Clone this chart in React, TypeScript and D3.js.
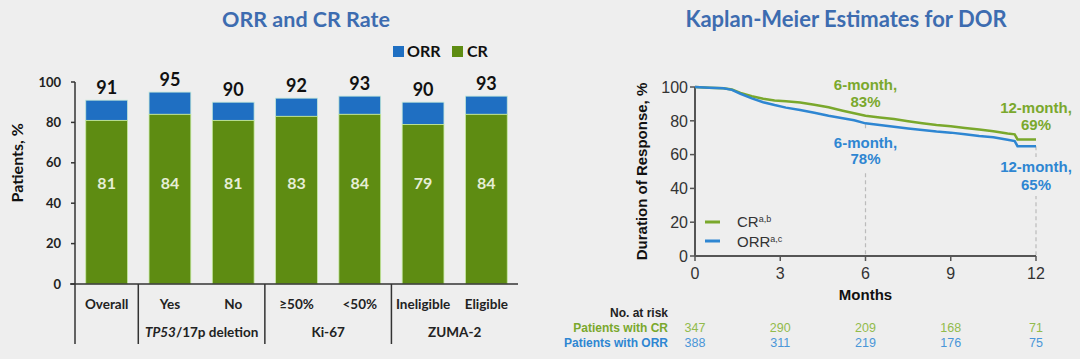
import React from "react";
import * as d3 from "d3";

// ---------- Left chart data ----------
const categories = ["Overall", "Yes", "No", "≥50%", "<50%", "Ineligible", "Eligible"];
const orrValues = [91, 95, 90, 92, 93, 90, 93];
const crValues = [81, 84, 81, 83, 84, 79, 84];
const groupSpans = [
  { label: "", start: 0, end: 1 },
  { label: "TP53/17p deletion", start: 1, end: 3 },
  { label: "Ki-67", start: 3, end: 5 },
  { label: "ZUMA-2", start: 5, end: 7 },
];
const barYTicks = [0, 20, 40, 60, 80, 100];

// ---------- Right chart data ----------
const kmMonths = [0, 0.5, 1.0, 1.3, 1.6, 2.0, 2.4, 2.8, 3.2, 3.7, 4.2, 4.7, 5.2, 5.6, 6.0, 6.5, 7.0, 7.5, 8.0, 8.5, 9.0, 9.5, 10.0, 10.5, 11.0, 11.25, 11.35, 12];
const kmCR = [100, 99.6, 99.2, 98.5, 96.5, 94.5, 93, 92, 91.5, 90.8, 89.5, 88, 86, 84.5, 83, 82, 81, 79.8, 78.6, 77.5, 76.8, 75.8, 74.8, 73.8, 72.5, 72, 69, 69];
const kmORR = [100, 99.6, 99.2, 98.3, 96, 93.3, 91, 89.3, 87.8, 86.4, 84.8, 83, 81.5, 80.3, 78.5, 77.5, 76.5, 75.5, 74.5, 73.6, 73, 72, 71, 70.3, 68.8, 68, 65, 65];
const kmXTicks = [0, 3, 6, 9, 12];
const kmYTicks = [0, 20, 40, 60, 80, 100];
const riskCR = [347, 290, 209, 168, 71];
const riskORR = [388, 311, 219, 176, 75];

const BG = "#eeeeee";
const BAR_BLUE = "#1f6fc2";
const BAR_GREEN = "#5e8c12";
const KM_GREEN = "#7aa82c";
const KM_BLUE = "#2e86d2";
const TITLE_BLUE = "#3d6cb0";
const LATO = "Lato, 'Open Sans', sans-serif";
const ARIAL = "'Liberation Sans', Arial, sans-serif";

function BarChart() {
  const x = d3.scaleBand<string>().domain(categories).range([75, 518]).paddingInner(0.34).paddingOuter(0.17);
  const y = d3.scaleLinear().domain([0, 100]).range([284, 82]);
  const step = x.step();
  const x0 = 75;
  return (
    <g fontFamily={LATO}>
      <text x={306} y={27} textAnchor="middle" fontSize={21.5} fontWeight={700} fill={TITLE_BLUE}>ORR and CR Rate</text>
      {/* legend */}
      <rect x={393} y={46} width={11} height={11} fill={BAR_BLUE} />
      <text x={407} y={57} fontSize={16} fontWeight={700} fill="#111">ORR</text>
      <rect x={452} y={46} width={11} height={11} fill={BAR_GREEN} />
      <text x={467} y={57} fontSize={16} fontWeight={700} fill="#111">CR</text>
      {/* y title */}
      <text transform={`translate(23,${y(60)}) rotate(-90)`} textAnchor="middle" fontSize={16} fontWeight={700} fill="#111">Patients, %</text>
      {/* y axis */}
      <line x1={x0} x2={x0} y1={y(100)} y2={344} stroke="#333" strokeWidth={1.5} />
      {barYTicks.map((t) => (
        <g key={t}>
          <line x1={x0 - 4} x2={x0} y1={y(t)} y2={y(t)} stroke="#333" strokeWidth={1.5} />
          <text x={61} y={y(t)} dy="0.35em" textAnchor="end" fontSize={13} fontWeight={700} fill="#222">{t}</text>
        </g>
      ))}
      {/* bars */}
      {categories.map((c, i) => {
        const bx = x(c)!;
        const bw = x.bandwidth();
        return (
          <g key={c}>
            <rect x={bx} y={y(orrValues[i])} width={bw} height={y(crValues[i]) - y(orrValues[i])} fill={BAR_BLUE} stroke="#bfe6d8" strokeWidth={0.8} />
            <rect x={bx} y={y(crValues[i])} width={bw} height={y(0) - y(crValues[i])} fill={BAR_GREEN} stroke="#c6eaa0" strokeWidth={0.8} />
            <text x={bx + bw / 2} y={y(orrValues[i]) - 6} textAnchor="middle" fontSize={18} fontWeight={700} fill="#111">{orrValues[i]}</text>
            <text x={bx + bw / 2} y={y(50) + 6} textAnchor="middle" fontSize={16} fontWeight={700} fill="#e6eed6">{crValues[i]}</text>
            <text x={bx + bw / 2} y={309} textAnchor="middle" fontSize={13.5} fontWeight={700} fill="#222">{c}</text>
          </g>
        );
      })}
      {/* x axis */}
      <line x1={70} x2={518} y1={y(0)} y2={y(0)} stroke="#333" strokeWidth={1.5} />
      {groupSpans.slice(1).map((g) => (
        <line key={g.label} x1={x0 + g.start * step} x2={x0 + g.start * step} y1={y(0)} y2={344} stroke="#333" strokeWidth={1.5} />
      ))}
      {groupSpans.map((g) => (
        <text key={g.label} x={x0 + ((g.start + g.end) / 2) * step} y={337} textAnchor="middle" fontSize={13.5} fontWeight={700} fill="#222">
          {g.label.startsWith("TP53") ? (
            <>
              <tspan fontStyle="italic">TP53</tspan>
              <tspan>{g.label.slice(4)}</tspan>
            </>
          ) : (
            g.label
          )}
        </text>
      ))}
    </g>
  );
}

function KMChart() {
  const x = d3.scaleLinear().domain([0, 12]).range([695, 1036]);
  const y = d3.scaleLinear().domain([0, 100]).range([256, 87]);
  const line = d3
    .line<number>()
    .x((_, i) => x(kmMonths[i]))
    .y((v) => y(v))
    .curve(d3.curveLinear);
  const maskRect = (cx: number, y1: number, y2: number) => (
    <rect x={cx - 4} y={y1} width={8} height={y2 - y1} fill={BG} />
  );
  return (
    <g fontFamily={ARIAL}>
      <text x={846} y={27} textAnchor="middle" fontSize={22} fontWeight={700} fill={TITLE_BLUE} fontFamily={LATO}>Kaplan-Meier Estimates for DOR</text>
      {/* y title */}
      <text transform={`translate(647,${y(50)}) rotate(-90)`} textAnchor="middle" fontSize={15} fontWeight={700} fill="#111">Duration of Response, %</text>
      {/* dashed reference lines */}
      <line x1={x(6)} x2={x(6)} y1={y(78)} y2={y(0)} stroke="#bbb" strokeWidth={1.2} strokeDasharray="4,3" />
      <line x1={x(12)} x2={x(12)} y1={y(65)} y2={y(0)} stroke="#bbb" strokeWidth={1.2} strokeDasharray="4,3" />
      {maskRect(x(6), 129, 171)}
      {maskRect(x(12), 157, 196)}
      {/* axes */}
      <line x1={x(0)} x2={x(0)} y1={y(100)} y2={y(0)} stroke="#555" strokeWidth={2} />
      <line x1={x(0)} x2={x(12)} y1={y(0)} y2={y(0)} stroke="#555" strokeWidth={2} />
      {kmYTicks.map((t) => (
        <g key={t}>
          <line x1={x(0) - 5} x2={x(0)} y1={y(t)} y2={y(t)} stroke="#555" strokeWidth={1.5} />
          <text x={x(0) - 7} y={y(t)} dy="0.36em" textAnchor="end" fontSize={16} fill="#333">{t}</text>
        </g>
      ))}
      {kmXTicks.map((t) => (
        <g key={t}>
          <line x1={x(t)} x2={x(t)} y1={y(0)} y2={y(0) + 5} stroke="#555" strokeWidth={1.5} />
          <text x={x(t)} y={279} textAnchor="middle" fontSize={16} fill="#333">{t}</text>
        </g>
      ))}
      <text x={x(6)} y={300} textAnchor="middle" fontSize={15} fontWeight={700} fill="#111">Months</text>
      {/* curves */}
      <path d={line(kmCR) ?? ""} fill="none" stroke={KM_GREEN} strokeWidth={2.5} />
      <path d={line(kmORR) ?? ""} fill="none" stroke={KM_BLUE} strokeWidth={2.5} />
      {/* annotations */}
      <g fontSize={15} fontWeight={700} textAnchor="middle">
        <text x={x(6)} y={90} fill={KM_GREEN}>6-month,</text>
        <text x={x(6)} y={107} fill={KM_GREEN}>83%</text>
        <text x={x(6)} y={148} fill={KM_BLUE}>6-month,</text>
        <text x={x(6)} y={164} fill={KM_BLUE}>78%</text>
        <text x={x(12)} y={113} fill={KM_GREEN}>12-month,</text>
        <text x={x(12)} y={130} fill={KM_GREEN}>69%</text>
        <text x={x(12)} y={172} fill={KM_BLUE}>12-month,</text>
        <text x={x(12)} y={190} fill={KM_BLUE}>65%</text>
      </g>
      {/* legend */}
      <line x1={705} x2={720} y1={222} y2={222} stroke={KM_GREEN} strokeWidth={3} />
      <text x={737} y={227} fontSize={15} fill="#333">CR<tspan fontSize={9} dy={-5}>a,b</tspan></text>
      <line x1={705} x2={720} y1={241} y2={241} stroke={KM_BLUE} strokeWidth={3} />
      <text x={737} y={247} fontSize={15} fill="#333">ORR<tspan fontSize={9} dy={-5}>a,c</tspan></text>
      {/* risk table */}
      <text x={668} y={317} textAnchor="end" fontSize={12} fontWeight={700} fill="#222">No. at risk</text>
      <text x={668} y={332} textAnchor="end" fontSize={12} fontWeight={700} fill={KM_GREEN}>Patients with CR</text>
      <text x={668} y={347} textAnchor="end" fontSize={12} fontWeight={700} fill={KM_BLUE}>Patients with ORR</text>
      {kmXTicks.map((t, i) => (
        <g key={t} fontSize={12.5} textAnchor="middle">
          <text x={x(t)} y={332} fill="#92bb4c">{riskCR[i]}</text>
          <text x={x(t)} y={347} fill="#4a96d8">{riskORR[i]}</text>
        </g>
      ))}
    </g>
  );
}

export default function App() {
  return (
    <div style={{ position: "fixed", left: 0, top: 0 }}>
      <svg width={1080} height={359} style={{ display: "block" }}>
        <rect width={1080} height={359} fill={BG} />
        <BarChart />
        <KMChart />
      </svg>
    </div>
  );
}
